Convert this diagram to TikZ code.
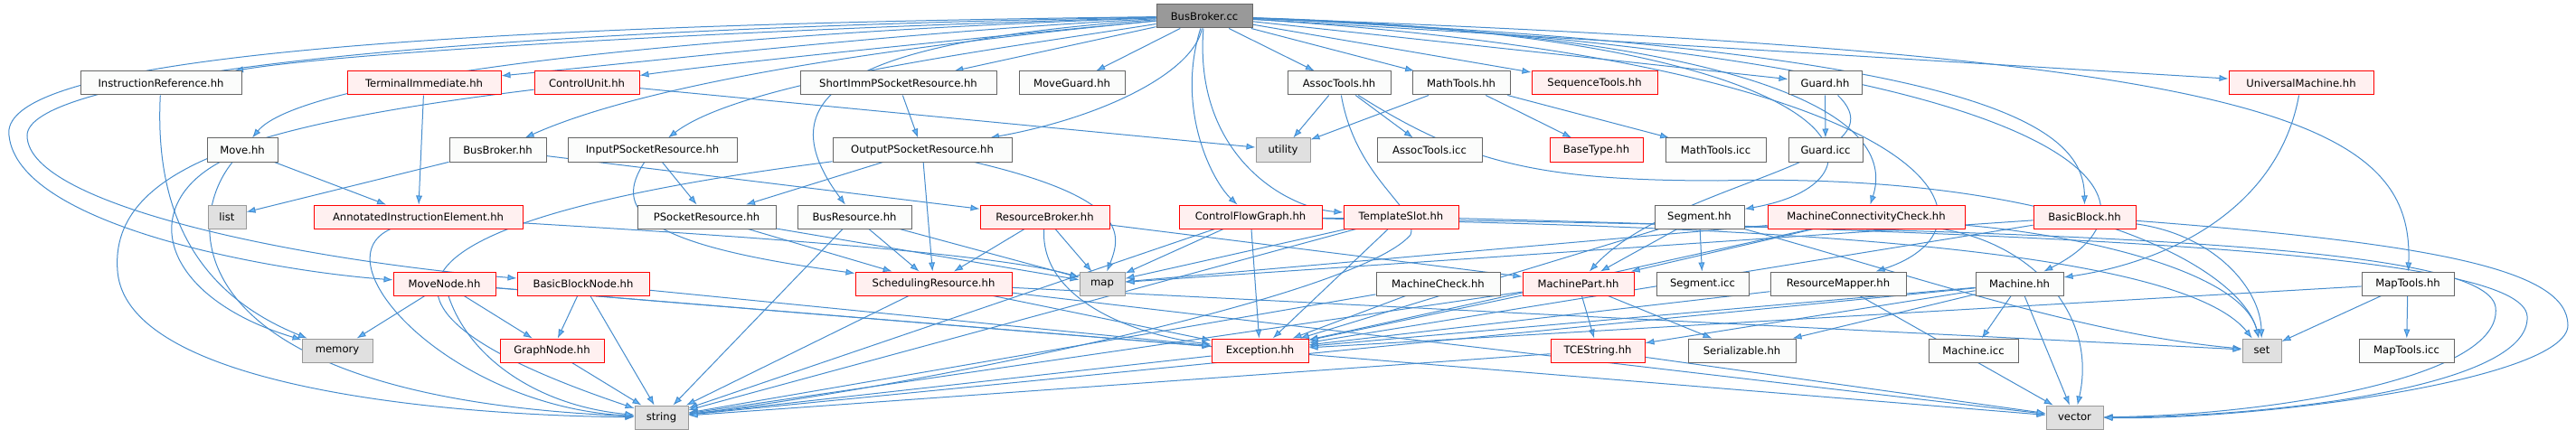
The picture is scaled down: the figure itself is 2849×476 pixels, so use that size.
\documentclass[tikz,border=0pt]{standalone}
\usepackage{fontspec}
\newfontfamily\dvfont{DejaVu Sans}
\usetikzlibrary{arrows.meta}
\definecolor{edgecol}{RGB}{70,140,205}
\definecolor{arrowcol}{HTML}{63B8FF}
\definecolor{nbord}{HTML}{666666}
\definecolor{nfill}{HTML}{FBFCFB}
\definecolor{rbord}{HTML}{FF0000}
\definecolor{rfill}{HTML}{FFF0F0}
\definecolor{gbord}{HTML}{999999}
\definecolor{gfill}{HTML}{E0E0E0}
\definecolor{rootfill}{HTML}{999999}
\pgfdeclarelayer{bg}
\pgfsetlayers{bg,main}
\begin{document}
\begin{tikzpicture}[x=0.5pt,y=-0.5pt,
  basebox/.style={draw, line width=0.5pt, minimum height=13pt, inner sep=0pt, font=\dvfont\fontsize{5.8}{7}\selectfont, text=black},
  nrm/.style={basebox, draw=nbord, fill=nfill},
  rdn/.style={basebox, draw=rbord, fill=rfill},
  grn/.style={basebox, draw=gbord, fill=gfill},
  rootn/.style={basebox, draw=nbord, fill=rootfill},
  dep/.style={draw=edgecol, line width=0.5pt, -{Latex[length=5pt,width=3.6pt,fill=arrowcol]}}]
\useasboundingbox (0,0) rectangle (2849,476);
% row 0
\node[rootn, minimum width=53pt] (bbcc) at (1332,18) {BusBroker.cc};
% row 1
\node[nrm, minimum width=89pt] (ir) at (178,92) {InstructionReference.hh};
\node[rdn, minimum width=85pt] (ti) at (469,92) {TerminalImmediate.hh};
\node[rdn, minimum width=58pt] (cu) at (649,92) {ControlUnit.hh};
\node[nrm, minimum width=108.5pt] (sips) at (993.5,92) {ShortImmPSocketResource.hh};
\node[nrm, minimum width=58.5pt] (mg) at (1185.5,92) {MoveGuard.hh};
\node[nrm, minimum width=57pt] (at) at (1481,92) {AssocTools.hh};
\node[nrm, minimum width=54pt] (mt) at (1616,92) {MathTools.hh};
\node[rdn, minimum width=69.5pt] (st) at (1763.5,92) {SequenceTools.hh};
\node[nrm, minimum width=40.5pt] (gd) at (2018.5,92) {Guard.hh};
\node[rdn, minimum width=80pt] (um) at (2545,92) {UniversalMachine.hh};
% row 2
\node[nrm, minimum width=39pt] (mv) at (268,166) {Move.hh};
\node[nrm, minimum width=53.5pt] (bbh) at (550.5,166) {BusBroker.hh};
\node[nrm, minimum width=93.5pt] (ips) at (721.5,166) {InputPSocketResource.hh};
\node[nrm, minimum width=99pt] (ops) at (1020,166) {OutputPSocketResource.hh};
\node[grn, minimum width=30pt] (util) at (1419,166) {utility};
\node[nrm, minimum width=58pt] (ati) at (1581,166) {AssocTools.icc};
\node[rdn, minimum width=51.5pt] (bt) at (1765.5,166) {BaseType.hh};
\node[nrm, minimum width=55.5pt] (mti) at (1897.5,166) {MathTools.icc};
\node[nrm, minimum width=41pt] (gi) at (2019,166) {Guard.icc};
% row 3
\node[grn, minimum width=21pt] (lst) at (251,240) {list};
\node[rdn, minimum width=115.5pt] (aie) at (462.5,240) {AnnotatedInstructionElement.hh};
\node[nrm, minimum width=76.5pt] (psr) at (781.5,240) {PSocketResource.hh};
\node[nrm, minimum width=63pt] (bres) at (945,240) {BusResource.hh};
\node[rdn, minimum width=71.5pt] (rb) at (1155.5,240) {ResourceBroker.hh};
\node[rdn, minimum width=79pt] (cfg) at (1383,240) {ControlFlowGraph.hh};
\node[rdn, minimum width=63.5pt] (ts) at (1549.5,240) {TemplateSlot.hh};
\node[nrm, minimum width=49.5pt] (seg) at (1879.5,240) {Segment.hh};
\node[rdn, minimum width=109pt] (mcc) at (2064,240) {MachineConnectivityCheck.hh};
\node[rdn, minimum width=56.5pt] (bb) at (2305.5,240) {BasicBlock.hh};
% row 4
\node[rdn, minimum width=56.5pt] (mn) at (491.5,314) {MoveNode.hh};
\node[rdn, minimum width=73pt] (bbn) at (645,314) {BasicBlockNode.hh};
\node[rdn, minimum width=86.5pt] (sr) at (1032.5,314) {SchedulingResource.hh};
\node[grn, minimum width=25pt] (map) at (1219,314) {map};
\node[nrm, minimum width=68.5pt] (mchk) at (1590.5,314) {MachineCheck.hh};
\node[rdn, minimum width=61.5pt] (mp) at (1745.5,314) {MachinePart.hh};
\node[nrm, minimum width=51pt] (segi) at (1883,314) {Segment.icc};
\node[nrm, minimum width=75pt] (rm) at (2033,314) {ResourceMapper.hh};
\node[nrm, minimum width=48.5pt] (mach) at (2233.5,314) {Machine.hh};
\node[nrm, minimum width=51pt] (mtools) at (2663,314) {MapTools.hh};
% row 5
\node[grn, minimum width=39pt] (mem) at (373,388) {memory};
\node[rdn, minimum width=57.5pt] (gn) at (610.5,388) {GraphNode.hh};
\node[rdn, minimum width=53.5pt] (exc) at (1393.5,388) {Exception.hh};
\node[rdn, minimum width=52pt] (tces) at (1767,388) {TCEString.hh};
\node[nrm, minimum width=59.5pt] (ser) at (1926.5,388) {Serializable.hh};
\node[nrm, minimum width=49.5pt] (mi) at (2182.5,388) {Machine.icc};
\node[grn, minimum width=21.5pt] (set) at (2501.5,388) {set};
\node[nrm, minimum width=52.5pt] (mtoi) at (2661.5,388) {MapTools.icc};
% row 6
\node[grn, minimum width=29.5pt] (str) at (731.5,462) {string};
\node[grn, minimum width=31.5pt] (vec) at (2294.5,462) {vector};

\begin{pgfonlayer}{bg}
% root edges
\draw[dep] (bbcc) .. controls (900,30) and (400,55) .. (ir);
\draw[dep] (bbcc) .. controls (1000,35) and (700,70) .. (ti);
\draw[dep] (bbcc) .. controls (1100,40) and (800,70) .. (cu);
\draw[dep] (bbcc) .. controls (700,40) and (330,90) .. (mv);
\draw[dep] (bbcc) .. controls (1000,50) and (720,90) .. (bbh);
\draw[dep] (bbcc) .. controls (1100,55) and (820,90) .. (ips);
\draw[dep] (bbcc) -- (sips);
\draw[dep] (bbcc) -- (mg);
\draw[dep] (bbcc) .. controls (1320,80) and (1220,130) .. (ops);
\draw[dep] (bbcc) .. controls (950,45) and (840,100) .. (bres);
\draw[dep] (bbcc) .. controls (1300,120) and (1340,200) .. (cfg);
\draw[dep] (bbcc) .. controls (1320,170) and (1420,230) .. (ts);
\draw[dep] (bbcc) -- (at);
\draw[dep] (bbcc) -- (mt);
\draw[dep] (bbcc) -- (st);
\draw[dep] (bbcc) -- (gd);
\draw[dep] (bbcc) -- (um);
\draw[dep] (bbcc) .. controls (2060,40) and (2110,200) .. (seg);
\draw[dep] (bbcc) .. controls (1950,40) and (2100,130) .. (mcc);
\draw[dep] (bbcc) .. controls (2200,55) and (2305,140) .. (bb);
\draw[dep] (bbcc) .. controls (2300,60) and (2420,220) .. (mach);
\draw[dep] (bbcc) .. controls (2500,60) and (2670,130) .. (mtools);
\draw[dep] (bbcc) .. controls (2150,70) and (2230,250) .. (rm);
\draw[dep] (bbcc) .. controls (300,30) and (0,80) .. (10,150) .. controls (20,250) and (300,300) .. (mn);
\draw[dep] (bbcc) .. controls (400,35) and (30,90) .. (30,150) .. controls (30,230) and (350,290) .. (bbn);
% other edges
\draw[dep] (ir) .. controls (170,250) and (230,330) .. (mem);
\draw[dep] (ti) -- (aie);
\draw[dep] (cu) .. controls (300,135) and (120,180) .. (130,300) .. controls (140,430) and (500,460) .. (str);
\draw[dep] (cu) -- (util);
\draw[dep] (mv) -- (aie);
\draw[dep] (mv) .. controls (150,230) and (180,330) .. (mem);
\draw[dep] (mv) .. controls (200,250) and (200,440) .. (str);
\draw[dep] (bbh) -- (lst);
\draw[dep] (bbh) -- (rb);
\draw[dep] (ips) -- (psr);
\draw[dep] (ips) .. controls (680,230) and (700,270) .. (sr);
\draw[dep] (sips) -- (ops);
\draw[dep] (ops) -- (psr);
\draw[dep] (ops) -- (sr);
\draw[dep] (ops) .. controls (1250,220) and (1240,260) .. (map);
\draw[dep] (ops) .. controls (600,220) and (250,300) .. (str);
\draw[dep] (at) -- (util);
\draw[dep] (at) -- (ati);
\draw[dep] (at) .. controls (1620,180) and (1700,200) .. (1900,200) .. controls (2300,190) and (2480,300) .. (set);
\draw[dep] (at) .. controls (1500,200) and (1570,230) .. (1560,260) .. controls (1500,330) and (1000,430) .. (str);
\draw[dep] (mt) -- (util);
\draw[dep] (mt) -- (bt);
\draw[dep] (mt) -- (mti);
\draw[dep] (gd) -- (gi);
\draw[dep] (gd) .. controls (2110,180) and (1850,200) .. (mp);
\draw[dep] (um) .. controls (2520,230) and (2400,290) .. (mach);
\draw[dep] (aie) .. controls (350,290) and (500,450) .. (str);
\draw[dep] (aie) .. controls (800,260) and (1100,280) .. (map);
\draw[dep] (psr) -- (sr);
\draw[dep] (psr) -- (map);
\draw[dep] (bres) -- (sr);
\draw[dep] (bres) -- (str);
\draw[dep] (bres) -- (map);
\draw[dep] (rb) -- (sr);
\draw[dep] (rb) -- (map);
\draw[dep] (rb) .. controls (1150,330) and (1250,370) .. (exc);
\draw[dep] (rb) -- (mp);
\draw[dep] (cfg) -- (map);
\draw[dep] (cfg) -- (exc);
\draw[dep] (cfg) -- (str);
\draw[dep] (cfg) .. controls (1800,250) and (2400,260) .. (set);
\draw[dep] (cfg) .. controls (2300,255) and (2750,270) .. (2760,340) .. controls (2770,420) and (2500,460) .. (vec);
\draw[dep] (ts) -- (map);
\draw[dep] (ts) -- (exc);
\draw[dep] (ts) -- (str);
\draw[dep] (ts) .. controls (2300,260) and (2790,280) .. (2795,350) .. controls (2800,430) and (2500,462) .. (vec);
\draw[dep] (seg) -- (mp);
\draw[dep] (seg) -- (segi);
\draw[dep] (seg) -- (exc);
\draw[dep] (seg) .. controls (2100,300) and (2300,370) .. (set);
\draw[dep] (mcc) -- (mp);
\draw[dep] (mcc) -- (map);
\draw[dep] (mcc) -- (exc);
\draw[dep] (mcc) .. controls (2300,260) and (2480,300) .. (set);
\draw[dep] (mcc) .. controls (2250,270) and (2320,350) .. (vec);
\draw[dep] (bb) -- (map);
\draw[dep] (bb) -- (exc);
\draw[dep] (bb) .. controls (2450,260) and (2500,320) .. (set);
\draw[dep] (bb) .. controls (2700,270) and (2840,300) .. (2840,360) .. controls (2840,420) and (2500,465) .. (vec);
\draw[dep] (sr) -- (exc);
\draw[dep] (sr) -- (str);
\draw[dep] (sr) -- (set);
\draw[dep] (sr) -- (vec);
\draw[dep] (mn) -- (mem);
\draw[dep] (mn) -- (gn);
\draw[dep] (mn) .. controls (520,400) and (600,450) .. (str);
\draw[dep] (mn) -- (exc);
\draw[dep] (mn) -- (vec);
\draw[dep] (bbn) -- (gn);
\draw[dep] (bbn) -- (str);
\draw[dep] (bbn) -- (exc);
\draw[dep] (gn) -- (str);
\draw[dep] (mchk) -- (exc);
\draw[dep] (mchk) -- (str);
\draw[dep] (mp) -- (tces);
\draw[dep] (mp) -- (ser);
\draw[dep] (mp) -- (exc);
\draw[dep] (mp) -- (str);
\draw[dep] (rm) -- (exc);
\draw[dep] (rm) -- (vec);
\draw[dep] (mach) -- (mi);
\draw[dep] (mach) -- (vec);
\draw[dep] (mach) -- (ser);
\draw[dep] (mach) -- (exc);
\draw[dep] (mach) -- (str);
\draw[dep] (mach) -- (tces);
\draw[dep] (mtools) -- (mtoi);
\draw[dep] (mtools) -- (set);
\draw[dep] (mtools) -- (exc);
\draw[dep] (exc) -- (str);
\draw[dep] (tces) -- (str);
\draw[dep] (tces) -- (vec);
\end{pgfonlayer}
\end{tikzpicture}
\end{document}
